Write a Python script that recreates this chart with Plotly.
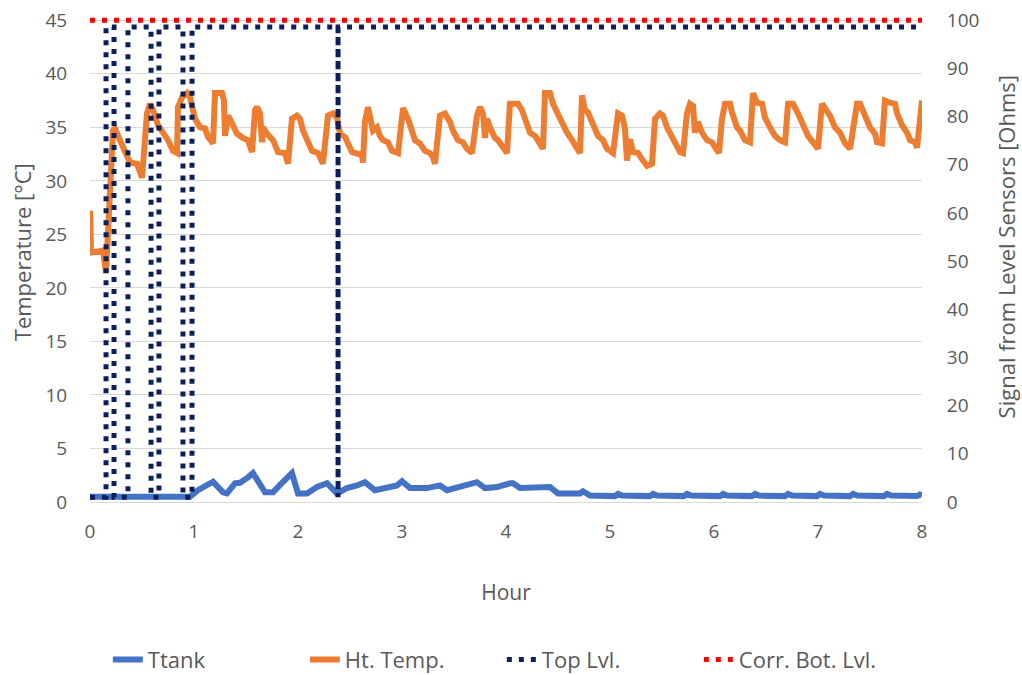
import plotly.graph_objects as go

# ---------------- data ----------------
ttank_hour = [0, 0.962, 1.038, 1.183, 1.279, 1.317, 1.394, 1.442, 1.519, 1.567, 1.683, 1.760,
              1.827, 1.894, 1.942, 2.000, 2.087, 2.183, 2.279, 2.375, 2.471, 2.567, 2.644,
              2.740, 2.856, 2.952, 3.000, 3.077, 3.240, 3.365, 3.433, 3.558, 3.654, 3.721,
              3.798, 3.913, 4.038, 4.067, 4.135, 4.394, 4.423, 4.500, 4.712, 4.740, 4.808,
              5.047, 5.077, 5.117, 5.383, 5.413, 5.453, 5.710, 5.740, 5.780, 6.057, 6.087,
              6.127, 6.364, 6.394, 6.434, 6.682, 6.712, 6.752, 6.989, 7.019, 7.059, 7.307,
              7.337, 7.377, 7.633, 7.663, 7.703, 7.951, 7.981, 8.0]
ttank_temp = [0.5, 0.5, 1.1, 1.9, 0.9, 0.8, 1.75, 1.8, 2.3, 2.7, 0.9, 0.9,
              1.6, 2.2, 2.7, 0.8, 0.8, 1.4, 1.75, 0.8, 1.3, 1.55, 1.85,
              1.1, 1.4, 1.55, 1.95, 1.3, 1.3, 1.55, 1.1, 1.4, 1.55, 1.85,
              1.3, 1.4, 1.75, 1.75, 1.3, 1.3, 1.4, 0.8, 0.8, 1.0, 0.6,
              0.55, 0.75, 0.6, 0.55, 0.75, 0.6, 0.55, 0.75, 0.6, 0.55, 0.75,
              0.6, 0.55, 0.75, 0.6, 0.55, 0.75, 0.6, 0.55, 0.75, 0.6, 0.55,
              0.75, 0.6, 0.55, 0.75, 0.6, 0.55, 0.7, 0.65]

ht_hour = [0, 0.010, 0.125, 0.154, 0.221, 0.240, 0.288, 0.337, 0.385, 0.452, 0.481, 0.500,
           0.548, 0.577, 0.606, 0.654, 0.702, 0.750, 0.798, 0.837, 0.846, 0.885, 0.933, 0.962,
           1.010, 1.058, 1.106, 1.135, 1.183, 1.202, 1.269, 1.288, 1.298, 1.327, 1.365, 1.413,
           1.471, 1.519, 1.558, 1.587, 1.606, 1.635, 1.654, 1.663, 1.702, 1.760, 1.808, 1.875,
           1.904, 1.942, 1.990, 2.019, 2.048, 2.096, 2.135, 2.192, 2.240, 2.288, 2.337, 2.375,
           2.404, 2.452, 2.519, 2.615, 2.625, 2.644, 2.673, 2.721, 2.760, 2.788, 2.817, 2.865,
           2.904, 2.962, 3.000, 3.010, 3.058, 3.096, 3.125, 3.173, 3.221, 3.269, 3.298, 3.317,
           3.365, 3.413, 3.462, 3.490, 3.538, 3.587, 3.625, 3.673, 3.721, 3.750, 3.779, 3.798,
           3.817, 3.846, 3.894, 3.923, 3.971, 4.010, 4.038, 4.115, 4.154, 4.202, 4.231, 4.279,
           4.327, 4.356, 4.375, 4.423, 4.452, 4.519, 4.587, 4.635, 4.683, 4.712, 4.731, 4.760,
           4.788, 4.837, 4.885, 4.933, 4.971, 5.029, 5.077, 5.115, 5.144, 5.163, 5.192, 5.221,
           5.269, 5.317, 5.356, 5.404, 5.433, 5.481, 5.510, 5.548, 5.596, 5.625, 5.673, 5.702,
           5.740, 5.769, 5.798, 5.817, 5.846, 5.885, 5.933, 5.981, 6.029, 6.048, 6.077, 6.106,
           6.154, 6.173, 6.221, 6.250, 6.298, 6.346, 6.375, 6.413, 6.462, 6.490, 6.538, 6.587,
           6.635, 6.683, 6.712, 6.760, 6.808, 6.856, 6.904, 6.952, 7.000, 7.038, 7.067, 7.115,
           7.163, 7.212, 7.260, 7.308, 7.375, 7.404, 7.452, 7.500, 7.548, 7.567, 7.615, 7.644,
           7.692, 7.740, 7.760, 7.808, 7.856, 7.885, 7.933, 7.952, 8.000]
ht_temp = [27.2, 23.3, 23.5, 21.4, 34.7, 34.9, 33.8, 32.6, 31.7, 31.6, 30.7, 30.3,
           36.3, 37.2, 36.6, 35.2, 34.5, 33.8, 32.8, 32.6, 36.9, 37.8, 38.2, 37.8,
           35.8, 35.0, 34.9, 34.1, 33.5, 38.2, 38.2, 37.5, 34.2, 36.1, 35.4, 34.4,
           34.0, 33.8, 32.7, 36.6, 36.9, 36.3, 33.6, 35.0, 34.4, 33.8, 32.7, 32.6,
           31.6, 35.8, 36.1, 35.8, 34.7, 33.8, 32.8, 32.6, 31.6, 36.1, 36.3, 35.9,
           34.4, 34.1, 32.7, 32.4, 31.7, 35.6, 36.9, 34.7, 35.0, 34.2, 33.8, 33.6,
           32.8, 32.6, 35.8, 36.8, 35.8, 34.4, 33.8, 33.5, 32.8, 32.6, 32.2, 31.6,
           36.1, 36.3, 35.5, 34.7, 33.8, 33.6, 33.0, 32.6, 36.1, 36.9, 36.3, 34.0,
           35.8, 35.0, 34.0, 33.8, 33.1, 32.6, 37.2, 37.2, 36.6, 35.4, 34.5, 34.2,
           33.5, 33.0, 38.2, 38.2, 37.2, 35.8, 34.5, 33.8, 33.0, 32.6, 38.0, 36.6,
           36.4, 35.4, 34.2, 33.8, 33.0, 32.6, 36.3, 36.1, 34.9, 31.9, 33.9, 32.7,
           32.6, 31.9, 31.4, 31.6, 35.8, 36.3, 36.1, 35.0, 34.2, 33.5, 32.7, 32.6,
           36.3, 37.2, 37.0, 34.5, 35.5, 34.5, 33.8, 33.6, 32.7, 32.6, 35.8, 37.2,
           37.2, 36.4, 35.0, 34.7, 33.8, 33.6, 38.2, 37.3, 37.2, 35.9, 35.0, 34.2,
           33.8, 33.6, 37.2, 37.2, 36.3, 35.2, 34.2, 33.6, 33.0, 37.2, 36.8, 36.1,
           35.0, 34.5, 33.5, 33.0, 37.2, 37.2, 36.1, 35.0, 34.4, 33.6, 33.5, 37.5,
           37.3, 37.2, 36.3, 35.2, 34.5, 33.8, 33.6, 33.1, 37.5]

top_hour = [0, 0.154, 0.154, 0.231, 0.231, 0.365, 0.365, 0.587, 0.587, 0.663, 0.663,
            0.894, 0.894, 0.981, 0.981, 2.385, 2.385, 2.385, 8.0]
top_ohm = [1.0, 1.0, 98.6, 98.6, 1.0, 1.0, 98.6, 98.6, 1.0, 1.0, 98.6,
           98.6, 1.0, 1.0, 98.6, 98.6, 1.0, 98.6, 98.6]

bot_hour = [0, 8.0]
bot_ohm = [100, 100]

x_ticks = [0, 1, 2, 3, 4, 5, 6, 7, 8]
left_ticks = [0, 5, 10, 15, 20, 25, 30, 35, 40, 45]
right_ticks = [0, 10, 20, 30, 40, 50, 60, 70, 80, 90, 100]

# ---------------- figure ----------------
FONT = "Open Sans"
GREY = "#595959"

fig = go.Figure()
fig.add_trace(go.Scatter(x=ttank_hour, y=ttank_temp, name="Ttank", mode="lines",
                         line=dict(color="#4472C4", width=6)))
fig.add_trace(go.Scatter(x=ht_hour, y=ht_temp, name="Ht. Temp.", mode="lines",
                         line=dict(color="#ED7D31", width=6)))
fig.add_trace(go.Scatter(x=top_hour, y=top_ohm, name="Top Lvl.", mode="lines", yaxis="y2",
                         line=dict(color="#0B1F5C", width=5, dash="5px,7px")))
fig.add_trace(go.Scatter(x=bot_hour, y=bot_ohm, name="Corr. Bot. Lvl.", mode="lines", yaxis="y2",
                         line=dict(color="#FF0000", width=5, dash="5px,7px")))

fig.update_layout(
    width=1022, height=675,
    margin=dict(l=90, r=100, t=17, b=173, autoexpand=False),
    paper_bgcolor="white", plot_bgcolor="white",
    font=dict(family=FONT, color=GREY, size=19),
    showlegend=True,
    legend=dict(orientation="h", x=0.495, xanchor="center", y=-0.325, yanchor="middle",
                font=dict(size=22, color=GREY), traceorder="normal",
                entrywidth=152, entrywidthmode="pixels"),
    xaxis=dict(range=[0, 8], tickvals=x_ticks, showgrid=False, zeroline=False,
               showline=False, ticks="outside", ticklen=12, tickcolor="rgba(0,0,0,0)",
               tickfont=dict(size=19, color=GREY),
               title=dict(text="Hour", font=dict(size=21, color=GREY), standoff=42)),
    yaxis=dict(range=[0, 45.31], tickvals=left_ticks, showgrid=True, gridcolor="#D9D9D9",
               gridwidth=1.3, zeroline=True, zerolinecolor="#D9D9D9", zerolinewidth=1.3,
               showline=False, ticks="outside", ticklen=18, tickcolor="rgba(0,0,0,0)",
               tickfont=dict(size=19, color=GREY)),
    yaxis2=dict(range=[0, 100.69], tickvals=right_ticks, overlaying="y", side="right",
                showgrid=False, zeroline=False, showline=False, ticks="outside", ticklen=20,
                tickcolor="rgba(0,0,0,0)", tickfont=dict(size=19, color=GREY)),
    annotations=[
        dict(text="Temperature [°C]", xref="paper", yref="paper", x=0, y=0.515,
             xanchor="center", yanchor="middle", xshift=-68, textangle=-90, showarrow=False,
             font=dict(size=22, color=GREY)),
        dict(text="Signal from Level Sensors [Ohms]", xref="paper", yref="paper", x=1,
             y=0.525, xanchor="center", yanchor="middle", xshift=84, textangle=-90,
             showarrow=False, font=dict(size=22, color=GREY)),
    ],
)

fig.write_html("out.html")
